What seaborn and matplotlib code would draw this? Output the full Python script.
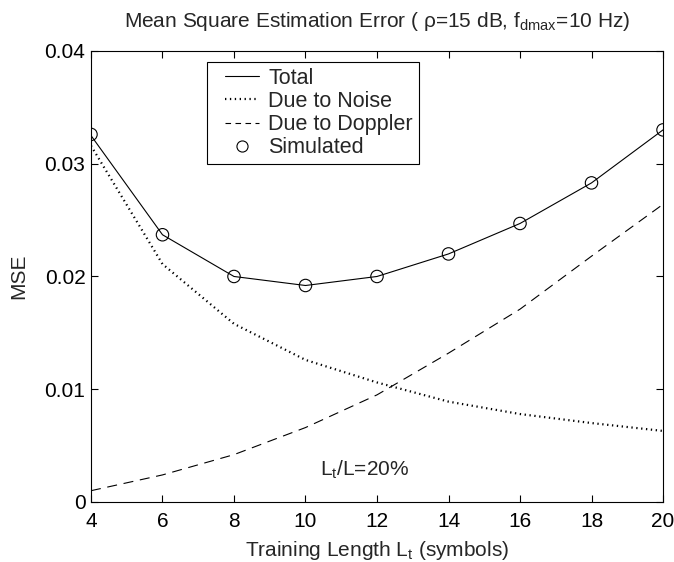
import numpy as np
import pandas as pd
import matplotlib
matplotlib.use("Agg")
import matplotlib.pyplot as plt
import seaborn as sns
from matplotlib.lines import Line2D
from matplotlib.legend_handler import HandlerLine2D

# ---- data ----
training_length = [4, 6, 8, 10, 12, 14, 16, 18, 20]
mse_total = [0.0325, 0.0237, 0.0200, 0.0192, 0.0200, 0.0220, 0.0247, 0.0283, 0.0330]
mse_noise = [0.0316, 0.0211, 0.0158, 0.0126, 0.0106, 0.0089, 0.0078, 0.0070, 0.0063]
mse_doppler = [0.0010, 0.0024, 0.0042, 0.0066, 0.0095, 0.0132, 0.0171, 0.0218, 0.0264]
mse_simulated = [0.0326, 0.0237, 0.0200, 0.0192, 0.0200, 0.0220, 0.0247, 0.0283, 0.0330]
x_ticks = [4, 6, 8, 10, 12, 14, 16, 18, 20]
y_ticks = [0, 0.01, 0.02, 0.03, 0.04]
y_tick_labels = ["0", "0.01", "0.02", "0.03", "0.04"]
legend_labels = ["Total", "Due to Noise", "Due to Doppler", "Simulated"]

df = pd.DataFrame({
    "L": training_length,
    "total": mse_total,
    "noise": mse_noise,
    "doppler": mse_doppler,
    "sim": mse_simulated,
})

sns.set_style("ticks")
plt.rcParams["font.family"] = ["Liberation Sans", "DejaVu Sans"]
plt.rcParams["mathtext.fontset"] = "custom"
plt.rcParams["mathtext.rm"] = "Liberation Sans"
plt.rcParams["mathtext.it"] = "Liberation Sans"

FS = 15
LFS = 15.5

fig = plt.figure(figsize=(6.74, 5.62), dpi=100)
ax = fig.add_axes([0.135, 0.1068, 0.8487, 0.8025])

sns.lineplot(data=df, x="L", y="total", ax=ax, color="black", linewidth=0.8)
sns.lineplot(data=df, x="L", y="noise", ax=ax, color="black", linewidth=1.6,
             linestyle=(0, (0.6, 1.6)))
sns.lineplot(data=df, x="L", y="doppler", ax=ax, color="black", linewidth=0.8,
             linestyle=(0, (9, 6)))
sns.scatterplot(data=df, x="L", y="sim", ax=ax, marker="o", s=80,
                facecolor="none", edgecolor="black", linewidth=0.8, zorder=5)

ax.set_xlim(4, 20)
ax.set_ylim(0, 0.04)
ax.set_xticks(x_ticks)
ax.set_xticklabels([str(t) for t in x_ticks])
ax.set_yticks(y_ticks)
ax.set_yticklabels(y_tick_labels)
ax.tick_params(direction="in", top=True, right=True, length=5, width=0.8,
               labelsize=FS, colors="black")
ax.tick_params(axis="x", pad=7)
ax.tick_params(axis="y", pad=4)
for s in ax.spines.values():
    s.set_visible(True)
    s.set_linewidth(0.8)
    s.set_color("black")

ax.set_xlabel(r"Training Length $\mathregular{L_t}$ (symbols)", fontsize=FS, labelpad=6)
ax.set_ylabel("MSE", fontsize=FS, labelpad=12)
ax.set_title(r"Mean Square Estimation Error ( ρ=15 dB, $\mathregular{f_{dmax}}$=10 Hz)",
             fontsize=FS, pad=17)

ax.text(10.4, 0.0023, r"$\mathregular{L_t}$/L=20%", fontsize=FS, ha="left", va="baseline")

handles = [
    Line2D([], [], color="black", linewidth=0.8),
    Line2D([], [], color="black", linewidth=1.6, linestyle=(0, (0.6, 1.6))),
    Line2D([], [], color="black", linewidth=0.8, linestyle=(0, (5, 4))),
    Line2D([], [], color="black", linestyle="none", marker="o", markersize=8,
           markerfacecolor="none", markeredgewidth=0.8),
]
hmap = {h: HandlerLine2D(xpad=0.55) for h in handles}
leg = ax.legend(handles, legend_labels, loc="upper left",
                bbox_to_anchor=(0.203, 0.976), fontsize=LFS, frameon=True,
                fancybox=False, edgecolor="black", framealpha=1,
                handlelength=2.15, handletextpad=0.42, borderpad=0.28,
                labelspacing=0.1, borderaxespad=0, handler_map=hmap)
leg.get_frame().set_linewidth(0.8)

fig.savefig("out.png", dpi=100)
